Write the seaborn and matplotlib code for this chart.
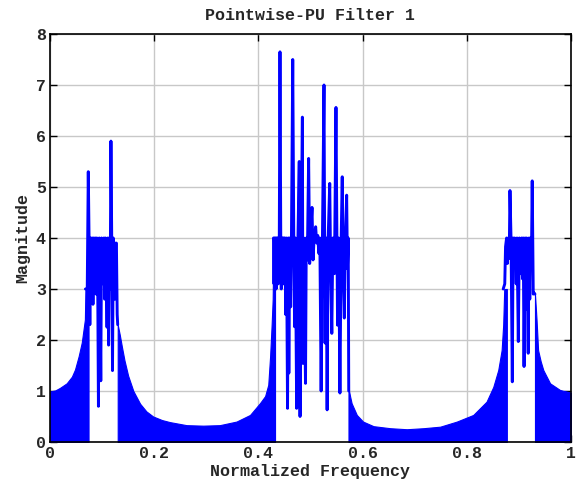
import numpy as np
import pandas as pd
import seaborn as sns
import matplotlib
matplotlib.use("Agg")
import matplotlib.pyplot as plt

# stopband envelopes (normalized frequency, magnitude) - solid regions
stop1_freq = [0.0, 0.010, 0.019, 0.032, 0.042, 0.048, 0.055, 0.061, 0.065, 0.067, 0.068, 0.072, 0.074]
stop1_mag = [0.99, 1.01, 1.06, 1.15, 1.28, 1.42, 1.68, 1.95, 2.25, 2.4, 3.0, 3.0, 3.0]

stop2_freq = [0.130, 0.134, 0.138, 0.143, 0.150, 0.160, 0.173, 0.185, 0.198, 0.215, 0.230, 0.262,
              0.294, 0.326, 0.358, 0.384, 0.403, 0.413, 0.419, 0.4225, 0.4255, 0.4275,
              0.429, 0.432]
stop2_mag = [2.3, 2.1, 1.87, 1.6, 1.3, 1.0, 0.75, 0.6, 0.5, 0.43, 0.39, 0.33,
             0.32, 0.33, 0.40, 0.53, 0.76, 0.9, 1.12, 1.67, 2.3, 2.8,
             4.0, 4.0]

stop3_freq = [0.573, 0.576, 0.579, 0.589, 0.601, 0.621, 0.653, 0.685, 0.717, 0.749, 0.781,
              0.8125, 0.838, 0.851, 0.8605, 0.867, 0.870, 0.872, 0.877]
stop3_mag = [1.06, 0.9, 0.76, 0.53, 0.40, 0.31, 0.27, 0.25, 0.27, 0.30, 0.40,
             0.53, 0.79, 1.08, 1.41, 1.8, 2.3, 3.0, 3.0]

stop4_freq = [0.931, 0.934, 0.937, 0.942, 0.947, 0.960, 0.979, 1.0]
stop4_mag = [2.9, 2.4, 1.8, 1.58, 1.41, 1.15, 1.02, 0.97]

# passband ripple (line)
pass1_freq = [0.068, 0.0715, 0.0735, 0.075, 0.0765, 0.078, 0.0795, 0.081, 0.0825, 0.084,
              0.0855, 0.087, 0.0885, 0.090, 0.0915, 0.093, 0.0945, 0.096, 0.0975, 0.099,
              0.1005, 0.102, 0.1035, 0.105, 0.1065, 0.108, 0.1095, 0.111, 0.1125, 0.114,
              0.1155, 0.117, 0.1185, 0.120, 0.1215, 0.123, 0.1245, 0.126, 0.1275, 0.129,
              0.130]
pass1_mag = [3.0, 3.0, 5.3, 4.0, 2.3, 4.0, 3.0, 4.0, 2.7, 4.0,
             3.2, 4.0, 2.9, 4.0, 3.3, 0.7, 4.0, 3.0, 1.2, 4.0,
             3.4, 3.1, 4.0, 2.8, 4.0, 3.3, 2.25, 4.0, 1.9, 4.0,
             3.0, 5.9, 4.0, 1.4, 4.0, 3.0, 2.8, 3.9, 3.9, 2.5,
             2.3]

pass2_freq = [0.429, 0.430, 0.431, 0.432, 0.433, 0.434, 0.435, 0.436, 0.437, 0.438,
              0.439, 0.440, 0.4415, 0.443, 0.444, 0.445, 0.446, 0.447, 0.448, 0.449,
              0.450, 0.451, 0.4525, 0.454, 0.456, 0.4575, 0.4585, 0.460, 0.462, 0.4635,
              0.466, 0.468, 0.4695, 0.471, 0.4735, 0.476, 0.4785, 0.480, 0.482, 0.4845,
              0.4856, 0.487, 0.4905, 0.492, 0.494, 0.4965, 0.4985, 0.500, 0.503, 0.505,
              0.507, 0.510, 0.512, 0.514, 0.516, 0.518, 0.5205, 0.523, 0.526, 0.528,
              0.530, 0.532, 0.534, 0.537, 0.539, 0.541, 0.543, 0.546, 0.549, 0.552,
              0.554, 0.5566, 0.559, 0.561, 0.563, 0.565, 0.567, 0.5695, 0.571, 0.5725,
              0.5735]
pass2_mag = [4.0, 3.1, 4.0, 3.3, 4.0, 3.0, 4.0, 3.4, 4.0, 3.1,
             4.0, 3.5, 7.65, 4.0, 3.0, 4.0, 3.3, 4.0, 3.1, 4.0,
             3.6, 4.0, 2.5, 4.0, 0.66, 4.0, 1.35, 4.0, 2.65, 4.0,
             7.5, 4.0, 2.26, 4.0, 0.66, 4.0, 5.5, 0.5, 3.76, 6.37,
             1.54, 4.0, 1.15, 4.0, 3.57, 5.56, 3.5, 4.0, 4.6, 3.57,
             4.0, 4.22, 3.9, 4.05, 3.7, 4.0, 1.0, 4.0, 7.0, 1.94,
             4.0, 0.63, 4.0, 5.07, 3.2, 2.13, 4.0, 3.3, 6.56, 2.29,
             4.0, 0.96, 4.0, 5.2, 3.3, 2.43, 4.0, 4.84, 3.4, 4.0,
             1.0]

pass3_freq = [0.870, 0.8715, 0.873, 0.8745, 0.8765, 0.878, 0.880, 0.8815, 0.883, 0.885,
              0.8875, 0.889, 0.8905, 0.892, 0.8935, 0.895, 0.8965, 0.899, 0.901, 0.9025,
              0.904, 0.9055, 0.907, 0.9085, 0.910, 0.912, 0.9135, 0.915, 0.9165, 0.918,
              0.9195, 0.921, 0.9225, 0.924, 0.9257, 0.9277, 0.9296, 0.931]
pass3_mag = [3.0, 3.05, 3.1, 3.83, 4.0, 3.5, 4.0, 3.6, 4.93, 4.0,
             1.18, 4.0, 3.57, 4.0, 3.7, 3.1, 4.0, 1.97, 4.0, 3.3,
             3.7, 4.0, 3.2, 4.0, 1.48, 4.0, 2.6, 4.0, 3.0, 1.74,
             4.0, 2.8, 4.0, 3.4, 5.12, 2.9, 2.92, 2.9]

x_ticks = [0, 0.2, 0.4, 0.6, 0.8, 1]
x_tick_labels = ["0", "0.2", "0.4", "0.6", "0.8", "1"]
y_ticks = [0, 1, 2, 3, 4, 5, 6, 7, 8]

sns.set_theme(style="whitegrid")
plt.rcParams['font.family'] = ['Liberation Mono', 'DejaVu Sans Mono']
plt.rcParams['font.weight'] = 'bold'

blue = "#0000ff"
fig = plt.figure(figsize=(5.84, 4.90), dpi=100)
ax = fig.add_axes([0.0856, 0.098, 0.892, 0.8326])

for f, m in [(stop1_freq, stop1_mag), (stop2_freq, stop2_mag),
             (stop3_freq, stop3_mag), (stop4_freq, stop4_mag)]:
    ax.fill_between(f, 0, m, color=blue, linewidth=0.8, edgecolor=blue, zorder=2)

for f, m in [(pass1_freq, pass1_mag), (pass2_freq, pass2_mag), (pass3_freq, pass3_mag)]:
    df = pd.DataFrame({"freq": f, "mag": m})
    sns.lineplot(data=df, x="freq", y="mag", sort=False, estimator=None,
                 color=blue, linewidth=2.1, ax=ax, zorder=3)

ax.set_xlim(0, 1)
ax.set_ylim(0, 8)
ax.set_xticks(x_ticks)
ax.set_xticklabels(x_tick_labels)
ax.set_yticks(y_ticks)
ax.grid(True, color="#c8c8c8", linewidth=1.0, linestyle="-")
ax.set_axisbelow(True)
for s in ax.spines.values():
    s.set_color("black")
    s.set_linewidth(1.2)
ax.tick_params(direction="in", length=5, width=1.0, color="black",
               top=True, right=True, bottom=True, left=True,
               labelsize=12, pad=3)
for lbl in ax.get_xticklabels() + ax.get_yticklabels():
    lbl.set_fontweight("bold")

ax.set_title("Pointwise-PU Filter 1", fontsize=12, fontweight="bold", pad=10)
ax.set_xlabel("Normalized Frequency", fontsize=12, fontweight="bold", labelpad=2)
ax.set_ylabel("Magnitude", fontsize=12, fontweight="bold", labelpad=4)

fig.savefig("out.png", dpi=100, facecolor="white")
